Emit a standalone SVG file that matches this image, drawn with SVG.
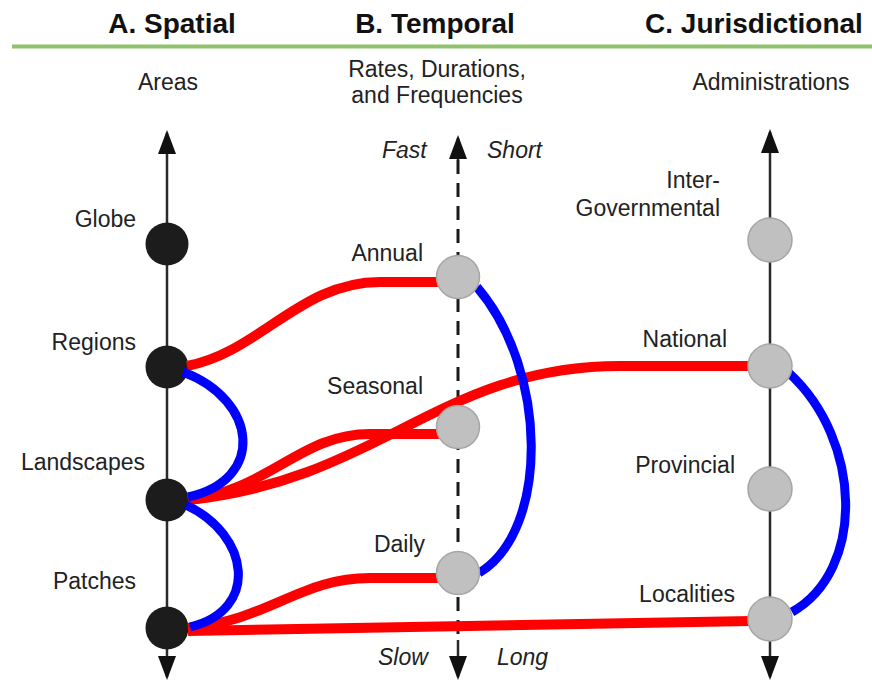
<svg xmlns="http://www.w3.org/2000/svg" width="872" height="682" viewBox="0 0 872 682">
<style>
.hdr{font-family:"Liberation Sans",Arial,sans-serif;font-weight:bold;font-size:28px;fill:#111;text-anchor:middle}
.lbl{font-family:"Liberation Sans",Arial,sans-serif;font-size:23px;fill:#222}
.end{text-anchor:end}
.mid{text-anchor:middle}
.it{font-style:italic}
.axis{stroke:#2a2a2a;stroke-width:2.5;fill:none}
.dash{stroke:#1a1a1a;stroke-width:3;stroke-dasharray:14 9}
.red{stroke:#ff0000;stroke-width:10;fill:none}
.blue{stroke:#0000ff;stroke-width:9;fill:none}
.blk{fill:#1c1c1c}
.gry{fill:#c0c0c0;stroke:#a5a5a5;stroke-width:1.5}
</style>
<defs>
<marker id="arr" markerUnits="userSpaceOnUse" markerWidth="24" markerHeight="18" viewBox="0 0 24 18" refX="21" refY="9" orient="auto-start-reverse">
<path d="M0,0 L24,9 L0,18 z" fill="#111"/>
</marker>
</defs>
<rect width="872" height="682" fill="#ffffff"/>
<g id="headers">
<text class="hdr" x="172" y="33">A. Spatial</text>
<text class="hdr" x="435" y="33">B. Temporal</text>
<text class="hdr" x="754" y="33">C. Jurisdictional</text>
<line x1="12" y1="46.5" x2="872" y2="46.5" stroke="#90c26c" stroke-width="4"/>
<text class="lbl mid" x="168" y="90">Areas</text>
<text class="lbl mid" x="437" y="77">Rates, Durations,</text>
<text class="lbl mid" x="437" y="103">and Frequencies</text>
<text class="lbl mid" x="771" y="90">Administrations</text>
</g>
<g id="axes">
<path class="axis" d="M167,133 L167,677" marker-start="url(#arr)" marker-end="url(#arr)"/>
<path class="axis" d="M458,138 L458,160" marker-start="url(#arr)"/>
<path class="axis dash" d="M458,160 L458,640"/>
<path class="axis" d="M458,640 L458,677" marker-end="url(#arr)"/>
<path class="axis" d="M770,132 L770,677" marker-start="url(#arr)" marker-end="url(#arr)"/>
<text class="lbl it" x="382" y="158">Fast</text>
<text class="lbl it" x="487" y="158">Short</text>
<text class="lbl it" x="378" y="665">Slow</text>
<text class="lbl it" x="497" y="665">Long</text>
</g>
<g id="node-globe"><circle class="blk" cx="167" cy="244" r="21.5"/><text class="lbl end" x="136" y="227">Globe</text></g>
<g id="node-regions"><circle class="blk" cx="167" cy="367" r="21.5"/><text class="lbl end" x="136" y="350">Regions</text></g>
<g id="node-landscapes"><circle class="blk" cx="167" cy="500" r="21.5"/><text class="lbl end" x="145" y="470">Landscapes</text></g>
<g id="node-patches"><circle class="blk" cx="167" cy="628" r="21.5"/><text class="lbl end" x="136" y="589">Patches</text></g>
<g id="connectors">
<path class="red" d="M187,366 C260,352 300,282 380,282 L442,282"/>
<path class="red" d="M188,500 C270,490 300,434 370,434 L442,434"/>
<path class="red" d="M188,500 C380,480 440,366 620,366 L752,366"/>
<path class="red" d="M188,628 C270,620 300,578 370,578 L442,578"/>
<path class="red" d="M188,631 Q400,628 752,621"/>
<path class="blue" d="M183,372 C258,400 266,480 188,497"/>
<path class="blue" d="M186,505 C250,535 260,610 190,627"/>
<path class="blue" d="M477,287 C548,370 550,530 479,573"/>
<path class="blue" d="M789,373 C862,440 866,570 792,612"/>
</g>
<g id="node-annual"><circle class="gry" cx="458" cy="277" r="21.5"/><text class="lbl end" x="423" y="261">Annual</text></g>
<g id="node-seasonal"><circle class="gry" cx="458" cy="427" r="21.5"/><text class="lbl end" x="423" y="394">Seasonal</text></g>
<g id="node-daily"><circle class="gry" cx="458" cy="573" r="21.5"/><text class="lbl end" x="425" y="552">Daily</text></g>
<g id="node-intergov"><circle class="gry" cx="770" cy="240" r="22"/><text class="lbl end" x="720" y="188">Inter-</text><text class="lbl end" x="720" y="216">Governmental</text></g>
<g id="node-national"><circle class="gry" cx="770" cy="366" r="22"/><text class="lbl end" x="727" y="347">National</text></g>
<g id="node-provincial"><circle class="gry" cx="770" cy="489" r="22"/><text class="lbl end" x="735" y="473">Provincial</text></g>
<g id="node-localities"><circle class="gry" cx="770" cy="619" r="22"/><text class="lbl end" x="735" y="602">Localities</text></g>
</svg>
